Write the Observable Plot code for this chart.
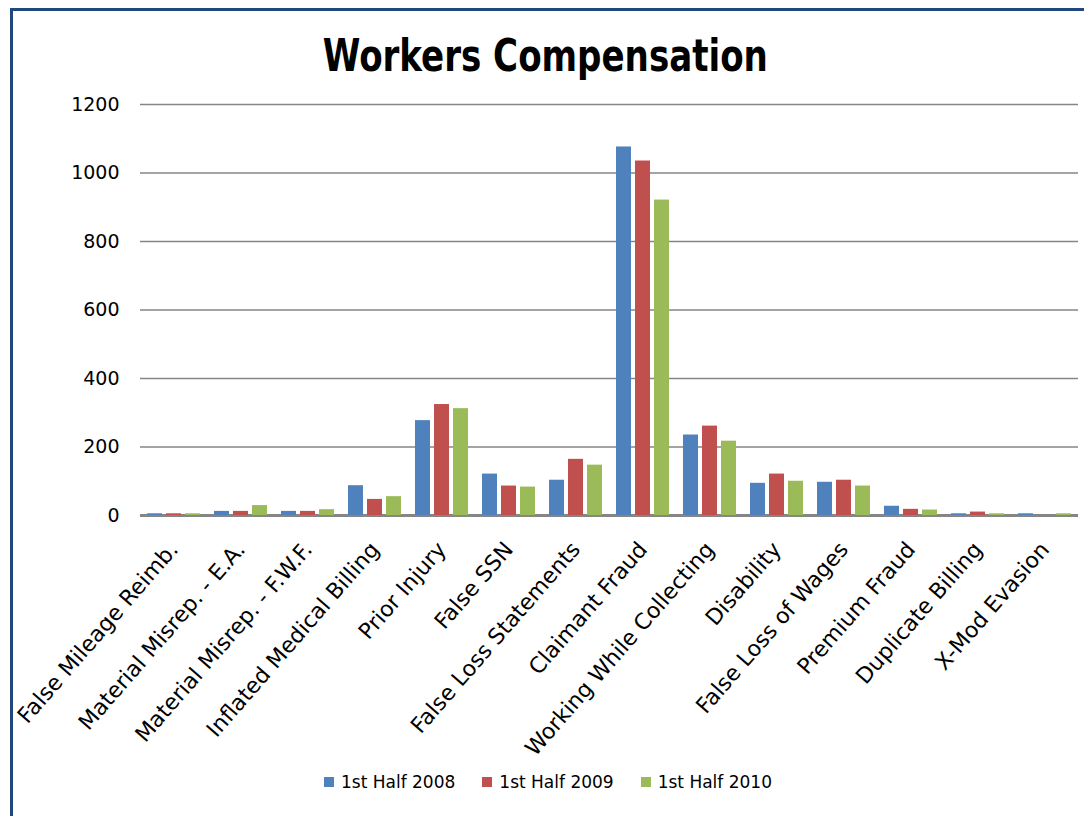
<!DOCTYPE html>
<html>
<head>
<meta charset="utf-8">
<script src="https://cdn.jsdelivr.net/npm/d3@7"></script>
<script src="https://cdn.jsdelivr.net/npm/@observablehq/plot@0.6"></script>
<style>
  html, body { margin: 0; padding: 0; background: #fff; }
  body { width: 1084px; height: 816px; position: relative; overflow: hidden; font-family: "DejaVu Sans", Verdana, sans-serif; }
  #frame { position: absolute; left: 10px; top: 8px; width: 1200px; height: 1000px;
           border-left: 3px solid #1F497D; border-top: 3px solid #1F497D; box-sizing: border-box; }
  #title { position: absolute; left: 0; top: 30px; width: 1090px; text-align: center; }
  #title span { display: inline-block; font-family: "DejaVu Sans Condensed", "DejaVu Sans", sans-serif;
                font-stretch: condensed; font-weight: bold; font-size: 44px; color: #000; transform-origin: center; }
  #chart { position: absolute; left: 0; top: 90px; }
  #legend { position: absolute; left: 0; top: 772px; width: 1084px; padding-left: 12px; box-sizing: border-box;
            display: flex; justify-content: center; gap: 27px; font-size: 17px; color: #000; }
  #legend .item { display: flex; align-items: center; }
  #legend .sw { width: 10px; height: 10px; margin-right: 7px; }
</style>
</head>
<body>
<div id="frame"></div>
<div id="title"><span>Workers Compensation</span></div>
<div id="chart"></div>
<div id="legend"></div>
<script>
const categories = [
  "False Mileage Reimb.", "Material Misrep. - E.A.", "Material Misrep. - F.W.F.",
  "Inflated Medical Billing", "Prior Injury", "False SSN", "False Loss Statements",
  "Claimant Fraud", "Working While Collecting", "Disability", "False Loss of Wages",
  "Premium Fraud", "Duplicate Billing", "X-Mod Evasion"
];
const series = ["1st Half 2008", "1st Half 2009", "1st Half 2010"];
const values2008 = [5, 12, 12, 87, 277, 121, 103, 1076, 235, 94, 97, 27, 5, 5];
const values2009 = [5, 12, 12, 47, 324, 86, 164, 1035, 261, 121, 103, 18, 10, 0];
const values2010 = [5, 29, 17, 55, 312, 83, 147, 921, 217, 100, 86, 16, 5, 5];
const colors = ["#4F81BD", "#C0504D", "#9BBB59"];
const yTicks = [0, 200, 400, 600, 800, 1000, 1200];

const seriesValues = [values2008, values2009, values2010];
const data = [];
categories.forEach((c, i) => {
  series.forEach((s, j) => data.push({category: c, series: s, value: seriesValues[j][i]}));
});

const chart = Plot.plot({
  width: 1084,
  height: 680,
  marginLeft: 134,
  marginRight: 0,
  marginTop: 14,
  marginBottom: 255,
  style: {fontFamily: "'DejaVu Sans', Verdana, sans-serif", color: "#000", background: "transparent"},
  fx: {domain: categories, padding: 0, label: null},
  x: {domain: series, paddingInner: 0.2, paddingOuter: 0.29, axis: null},
  y: {domain: [0, 1200], label: null},
  color: {domain: series, range: colors},
  marks: [
    Plot.gridY(yTicks, {stroke: "#868686", strokeOpacity: 1, strokeWidth: 1.5}),
    Plot.ruleY([0], {stroke: "#868686", strokeWidth: 3}),
    Plot.barY(data, {fx: "category", x: "series", y: "value", fill: "series"}),
    Plot.axisY(yTicks, {tickSize: 0, tickPadding: 21, fontSize: 19, label: null, tickFormat: d => String(d)}),
    Plot.axisFx({anchor: "bottom", tickRotate: -49, tickSize: 0, tickPadding: 30, fontSize: 22, label: null})
  ]
});
document.getElementById("chart").appendChild(chart);

const legend = document.getElementById("legend");
series.forEach((s, j) => {
  const item = document.createElement("div");
  item.className = "item";
  const sw = document.createElement("div");
  sw.className = "sw";
  sw.style.background = colors[j];
  const t = document.createElement("span");
  t.textContent = s;
  item.appendChild(sw);
  item.appendChild(t);
  legend.appendChild(item);
});

const ts = document.querySelector("#title span");
const w = ts.getBoundingClientRect().width;
ts.style.transform = `scaleX(${445 / w})`;
</script>
</body>
</html>
